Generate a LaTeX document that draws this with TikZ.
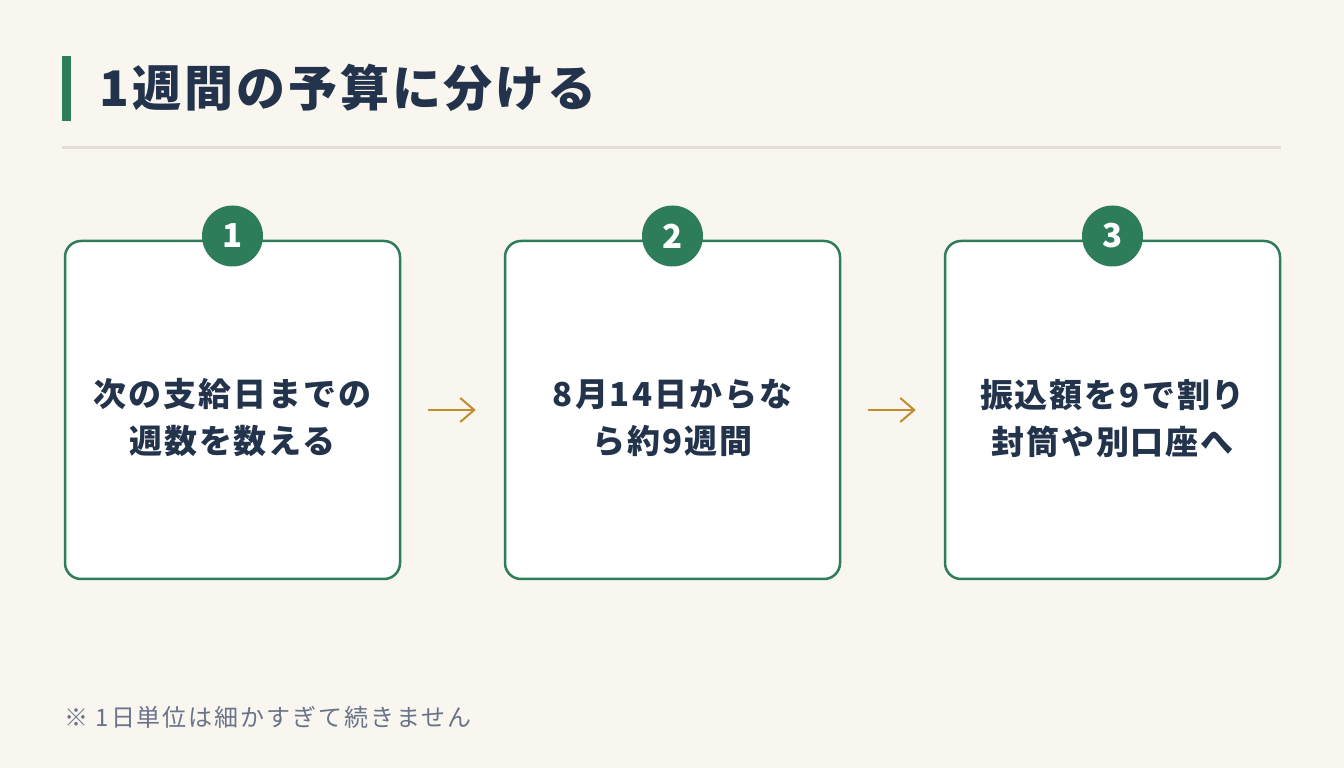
\documentclass[tikz,border=0pt]{standalone}
\usepackage{fontspec}
\setmainfont{Noto Sans CJK JP}
\usetikzlibrary{arrows.meta}
\definecolor{paper}{HTML}{F9F6EF}
\definecolor{leaf}{HTML}{2E7D5A}
\definecolor{ink}{HTML}{22334B}
\definecolor{amber}{HTML}{C28B2C}
\definecolor{rule}{HTML}{E2DED4}
\definecolor{note}{HTML}{69738A}
\begin{document}
\begin{tikzpicture}[x=1pt,y=1pt,
  stepbox/.style={draw=leaf, line width=2.5pt, fill=white, rounded corners=16pt, minimum width=335pt, minimum height=338pt, inner sep=0pt},
  steptext/.style={text=ink, font=\fontsize{33}{47}\selectfont\bfseries\addfontfeatures{LetterSpace=6}, align=center},
  badge/.style={circle, fill=leaf, minimum size=61pt, inner sep=0pt, text=white, font=\fontsize{33}{33}\selectfont\bfseries},
  flow/.style={draw=amber, line width=2pt, -{Straight Barb[length=14pt,width=24pt]}, shorten <=27pt, shorten >=28pt}]
\fill[paper] (0,0) rectangle (1344,768);
\fill[leaf] (62,647) rectangle (71,712);
\node[anchor=west, text=ink, font=\fontsize{49}{49}\selectfont\bfseries\addfontfeatures{LetterSpace=6}] (title) at (96,680) {1週間の予算に分ける};
\draw[rule, line width=3pt] (62,620) -- (1281,620);
\node[stepbox] (b1) at (232.5,358) {};
\node[stepbox] (b2) at (672.5,358) {};
\node[stepbox] (b3) at (1112.5,358) {};
\node[steptext] (t1) at (232.5,350) {次の支給日までの\\週数を数える};
\node[steptext] (t2) at (672.5,350) {8月14日からな\\ら約9週間};
\node[steptext] (t3) at (1112.5,350) {振込額を9で割り\\封筒や別口座へ};
\node[badge] (n1) at (232.5,532) {1};
\node[badge] (n2) at (672.5,532) {2};
\node[badge] (n3) at (1112.5,532) {3};
\draw[flow] (b1) -- (b2);
\draw[flow] (b2) -- (b3);
\node[anchor=west, text=note, font=\fontsize{24}{24}\selectfont\addfontfeatures{LetterSpace=8}] (foot) at (61,51) {※ 1日単位は細かすぎて続きません};
\end{tikzpicture}
\end{document}
